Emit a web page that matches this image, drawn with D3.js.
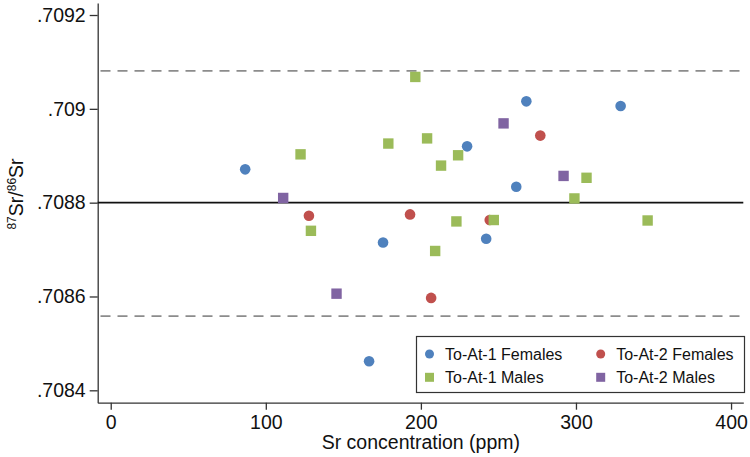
<!DOCTYPE html>
<html>
<head>
<meta charset="utf-8">
<script src="https://cdn.jsdelivr.net/npm/d3@7"></script>
<style>
  body { margin: 0; background: #fff; }
  svg { display: block; font-family: "Liberation Sans", Arial, sans-serif; }
</style>
</head>
<body>
<div id="chart"></div>
<script>
// values: [Sr ppm, 87Sr/86Sr]
const at1Females = [[86.7, .708871], [229.8, .70892], [268, .709016], [328.8, .709006],
  [261.5, .708834], [242.1, .708723], [175.6, .708715], [166.6, .708462]];
const at2Females = [[127.8, .708772], [193, .708775], [277, .708943], [244.4, .708763], [206.6, .708597]];
const at1Males = [[122.4, .708903], [129.1, .70874], [179, .708926], [196.4, .709068], [204, .708937],
  [224, .708901], [213, .708879], [306.8, .708853], [299, .708809], [222.9, .70876],
  [247, .708763], [346.2, .708762], [209.2, .708697]];
const at2Males = [[111.2, .70881], [145.6, .708606], [253.3, .708969], [292, .708857]];

const seriesNames = ["To-At-1 Females", "To-At-2 Females", "To-At-1 Males", "To-At-2 Males"];
const xTicks = [0, 100, 200, 300, 400];
const yTicks = [.7084, .7086, .7088, .709, .7092];
const meanLine = .7088;
const limitLines = [.709081, .708558];

const width = 750, height = 457;
const colors = ["#4f81bd", "#c0504d", "#9bbb59", "#8064a2"];
const shapes = ["circle", "circle", "square", "square"];
const allSeries = [at1Females, at2Females, at1Males, at2Males];

let svg = d3.select("#chart").append("svg")
  .attr("width", width)
  .attr("height", height);

let xScale = d3.scaleLinear()
  .domain([-8.4, 407.9])
  .range([97.7, 743.3]);

let yScale = d3.scaleLinear()
  .domain([.7083736, .7092256])
  .range([402.7, 3]);

// axes
let xAxis = svg.append("g")
  .attr("transform", `translate(0,${402.7})`)
  .call(d3.axisBottom(xScale).tickValues(xTicks).tickSize(7).tickPadding(5).tickSizeOuter(0));

let yAxis = svg.append("g")
  .attr("transform", `translate(${97.7},0)`)
  .call(d3.axisLeft(yScale).tickValues(yTicks).tickSize(8).tickPadding(4).tickSizeOuter(0)
    .tickFormat(d => String(+d.toFixed(4)).replace(/^0/, "")));

[xAxis, yAxis].forEach(ax => {
  ax.select(".domain").attr("stroke", "#333").attr("stroke-width", 1.3);
  ax.selectAll(".tick line").attr("stroke", "#333").attr("stroke-width", 1.3);
  ax.selectAll(".tick text").attr("font-size", "19.5px").attr("fill", "#111")
    .attr("font-family", "'Liberation Sans', Arial, sans-serif");
});

// reference lines
svg.append("line")
  .attr("x1", xScale.range()[0]).attr("x2", xScale.range()[1])
  .attr("y1", yScale(meanLine)).attr("y2", yScale(meanLine))
  .attr("stroke", "#111").attr("stroke-width", 1.6);

svg.selectAll(".limit")
  .data(limitLines)
  .enter()
  .append("line")
    .attr("class", "limit")
    .attr("x1", 100.5).attr("x2", xScale.range()[1])
    .attr("y1", d => yScale(d)).attr("y2", d => yScale(d))
    .attr("stroke", "#8c8c8c").attr("stroke-width", 1.8)
    .attr("stroke-dasharray", "10,7");

// points
const drawMarker = (g, shape, color, size) => {
  if (shape === "circle") {
    g.append("circle").attr("r", size / 2).attr("fill", color);
  } else {
    g.append("rect").attr("x", -size / 2).attr("y", -size / 2)
      .attr("width", size).attr("height", size).attr("fill", color);
  }
};

allSeries.forEach((data, i) => {
  svg.selectAll(".pt" + i)
    .data(data)
    .enter()
    .append("g")
      .attr("class", "pt" + i)
      .attr("transform", d => `translate(${xScale(d[0])},${yScale(d[1])})`)
      .each(function () {
        drawMarker(d3.select(this), shapes[i], colors[i], shapes[i] === "circle" ? 10.6 : 10.4);
      });
});

// legend
let legend = svg.append("g");
legend.append("rect")
  .attr("x", 416.5).attr("y", 336.5)
  .attr("width", 328).attr("height", 56)
  .attr("fill", "#fff").attr("stroke", "#333").attr("stroke-width", 1.2);

seriesNames.forEach((name, i) => {
  let col = i % 2, row = Math.floor(i / 2);
  let item = legend.append("g")
    .attr("transform", `translate(${429.5 + col * 171.2},${354 + row * 23.3})`);
  drawMarker(item, shapes[i], colors[i], 9);
  item.append("text")
    .attr("x", 15.5).attr("y", 5.6)
    .attr("font-size", "16px").attr("fill", "#111")
    .text(name);
});

// axis titles
svg.append("text")
  .attr("x", (xScale(0) + xScale(400)) / 2).attr("y", 449)
  .attr("text-anchor", "middle")
  .attr("font-size", "19.5px").attr("fill", "#111")
  .text("Sr concentration (ppm)");

let yTitle = svg.append("text")
  .attr("transform", "translate(23,194) rotate(-90)")
  .attr("text-anchor", "middle")
  .attr("font-size", "19.5px").attr("fill", "#111");
yTitle.append("tspan").attr("font-size", "12px").attr("dy", -7).text("87");
yTitle.append("tspan").attr("dy", 7).text("Sr/");
yTitle.append("tspan").attr("font-size", "12px").attr("dy", -7).text("86");
yTitle.append("tspan").attr("dy", 7).text("Sr");
</script>
</body>
</html>
